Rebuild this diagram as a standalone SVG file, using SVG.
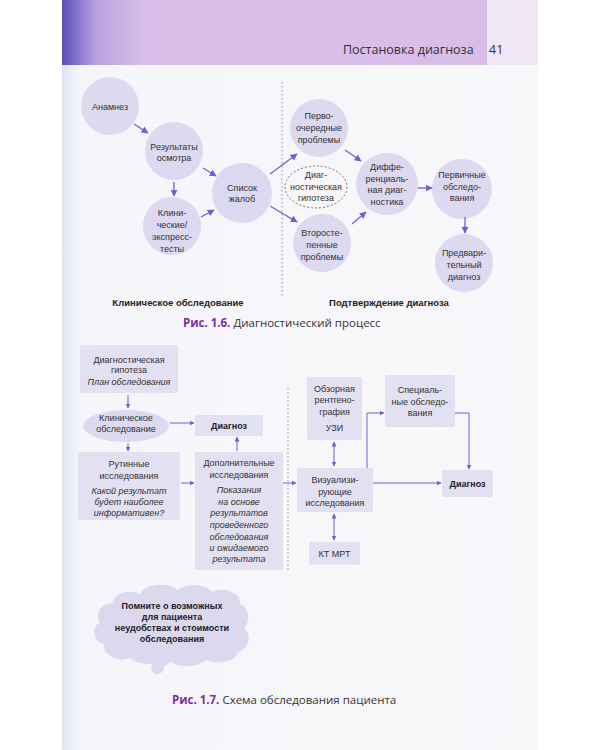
<svg xmlns="http://www.w3.org/2000/svg" width="600" height="750" viewBox="0 0 600 750">
<defs>
<linearGradient id="hdr" x1="0" y1="0" x2="1" y2="0">
<stop offset="0" stop-color="#5a4cb8"/>
<stop offset="0.08" stop-color="#b9a3e0"/>
<stop offset="0.2" stop-color="#d9bfea"/>
<stop offset="1" stop-color="#d8bde9"/>
</linearGradient>
<linearGradient id="pg" x1="0" y1="0" x2="1" y2="0">
<stop offset="0" stop-color="#dfe6f2"/>
<stop offset="0.04" stop-color="#f6f6fa"/>
<stop offset="1" stop-color="#f8f8fb"/>
</linearGradient>
<marker id="ah" viewBox="0 0 10 10" refX="9" refY="5" markerWidth="7" markerHeight="7" markerUnits="userSpaceOnUse" orient="auto-start-reverse">
<path d="M0,0 L10,5 L0,10 z" fill="#6a62d4"/>
</marker>
<marker id="as" viewBox="0 0 10 10" refX="9" refY="5" markerWidth="5" markerHeight="5" markerUnits="userSpaceOnUse" orient="auto-start-reverse">
<path d="M0,0 L10,5 L0,10 z" fill="#6a62d4"/>
</marker>
</defs>
<style>
text{font-family:"Liberation Sans",Arial,sans-serif;fill:#333;}
.t{font-size:9px;text-anchor:middle;}
.ti{font-size:9px;text-anchor:middle;font-style:italic;}
.b{font-size:9.5px;font-weight:bold;text-anchor:middle;fill:#222;}
.cb{font-size:9px;font-weight:bold;text-anchor:middle;fill:#222;}
.cap{font-family:"Open Sans","Noto Sans",sans-serif;font-size:11.5px;fill:#333;}
.capb{font-weight:bold;fill:#7a2f9c;}
.hd{font-family:"Open Sans","Noto Sans",sans-serif;font-size:12.5px;fill:#333;}
.c{fill:#dcd9f0;}
.bx{fill:#e2e0f1;}
.ln{stroke:#6a62d4;stroke-width:1.3;fill:none;marker-end:url(#ah);}
.ls{stroke:#6a62d4;stroke-width:1;fill:none;marker-end:url(#as);}
.ld{stroke:#6a62d4;stroke-width:1;fill:none;marker-end:url(#as);marker-start:url(#as);}
.dot{stroke:#777;stroke-width:0.8;stroke-dasharray:1.5 2.5;fill:none;}
</style>
<rect x="0" y="0" width="600" height="750" fill="#ffffff"/>
<rect x="62" y="0" width="476" height="750" fill="url(#pg)"/>
<rect x="62" y="0" width="425" height="65" fill="url(#hdr)"/>
<rect x="487" y="0" width="51" height="65" fill="#efe6f6"/>
<text class="hd" x="343" y="54">Постановка диагноза</text>
<text class="hd" x="489" y="54">41</text>

<!-- Figure 1.6 -->
<line class="dot" x1="282" y1="82" x2="282" y2="298"/>
<g id="anamnez"><circle class="c" cx="110" cy="106" r="29"/><text class="t" x="110" y="110">Анамнез</text></g>
<g id="results"><circle class="c" cx="174" cy="151" r="29"/><text class="t" x="174" y="150">Результаты</text><text class="t" x="174" y="160.5">осмотра</text></g>
<g id="tests"><circle class="c" cx="172" cy="226" r="29"/><text class="t" x="172" y="216">Клини-</text><text class="t" x="172" y="228">ческие/</text><text class="t" x="172" y="240">экспресс-</text><text class="t" x="172" y="251.5">тесты</text></g>
<g id="complaints"><circle class="c" cx="242" cy="193" r="30"/><text class="t" x="242" y="191">Список</text><text class="t" x="242" y="201.5">жалоб</text></g>
<g id="primary-problems"><circle class="c" cx="319" cy="128" r="29"/><text class="t" x="319" y="119">Перво-</text><text class="t" x="319" y="131">очередные</text><text class="t" x="319" y="143">проблемы</text></g>
<g id="hypothesis"><ellipse cx="316" cy="187" rx="31" ry="21" fill="none" stroke="#555" stroke-width="0.8" stroke-dasharray="2 2"/><text class="t" x="316" y="178">Диаг-</text><text class="t" x="316" y="190">ностическая</text><text class="t" x="316" y="201">гипотеза</text></g>
<g id="secondary-problems"><circle class="c" cx="322" cy="243" r="29"/><text class="t" x="322" y="236">Второсте-</text><text class="t" x="322" y="248">пенные</text><text class="t" x="322" y="260">проблемы</text></g>
<g id="differential"><circle class="c" cx="387" cy="184" r="31"/><text class="t" x="387" y="170">Диффе-</text><text class="t" x="387" y="181.5">ренциаль-</text><text class="t" x="387" y="193">ная диаг-</text><text class="t" x="387" y="205">ностика</text></g>
<g id="primary-exams"><circle class="c" cx="462" cy="189" r="30"/><text class="t" x="462" y="178">Первичные</text><text class="t" x="462" y="190">обследо-</text><text class="t" x="462" y="201">вания</text></g>
<g id="preliminary"><circle class="c" cx="464" cy="263" r="29"/><text class="t" x="464" y="256">Предвари-</text><text class="t" x="464" y="268">тельный</text><text class="t" x="464" y="280">диагноз</text></g>
<g id="connectors-1-6">
<line class="ln" x1="134" y1="124" x2="148" y2="133"/>
<line class="ln" x1="203" y1="168" x2="216" y2="176"/>
<line class="ln" x1="174" y1="182" x2="174" y2="196"/>
<line class="ln" x1="201" y1="217" x2="214" y2="210"/>
<line class="ln" x1="270" y1="174" x2="297" y2="154"/>
<line class="ln" x1="270" y1="206" x2="297" y2="222"/>
<line class="ln" x1="345" y1="150" x2="361" y2="161"/>
<line class="ln" x1="352" y1="224" x2="366" y2="212"/>
<line class="ln" x1="418" y1="188" x2="432" y2="188"/>
<line class="ln" x1="465" y1="217" x2="465" y2="233"/>
</g>
<text class="b" x="178" y="306">Клиническое обследование</text>
<text class="b" x="389" y="306">Подтверждение диагноза</text>
<text class="cap" x="183" y="327"><tspan class="capb">Рис. 1.6.</tspan> Диагностический процесс</text>

<!-- Figure 1.7 -->
<line class="dot" x1="288" y1="388" x2="288" y2="570"/>
<g id="hyp-box"><rect class="bx" x="80" y="345" width="98" height="48" rx="2"/><text class="t" x="129" y="363">Диагностическая</text><text class="t" x="129" y="373">гипотеза</text><text class="ti" x="129" y="385">План обследования</text></g>
<g id="clin-exam"><ellipse class="c" cx="126" cy="426" rx="43" ry="16"/><text class="t" x="126" y="421">Клиническое</text><text class="t" x="126" y="432">обследование</text></g>
<g id="diag1"><rect class="bx" x="195" y="415" width="68" height="21" rx="2"/><text class="cb" x="229" y="428.5">Диагноз</text></g>
<g id="routine"><rect class="bx" x="78" y="452" width="102" height="68" rx="2"/><text class="t" x="129" y="467">Рутинные</text><text class="t" x="129" y="479">исследования</text><text class="ti" x="129" y="494">Какой результат</text><text class="ti" x="129" y="505">будет наиболее</text><text class="ti" x="129" y="516">информативен?</text></g>
<g id="additional"><rect class="bx" x="195" y="452" width="88" height="118" rx="2"/><text class="t" x="239" y="466">Дополнительные</text><text class="t" x="239" y="478">исследования</text><text class="ti" x="239" y="493">Показания</text><text class="ti" x="239" y="505">на основе</text><text class="ti" x="239" y="516">результатов</text><text class="ti" x="239" y="527.5">проведенного</text><text class="ti" x="239" y="540">обследования</text><text class="ti" x="239" y="551">и ожидаемого</text><text class="ti" x="239" y="561.5">результата</text></g>
<g id="xray"><rect class="bx" x="307" y="377" width="55" height="63" rx="2"/><text class="t" x="334.5" y="392">Обзорная</text><text class="t" x="334.5" y="403">рентгено-</text><text class="t" x="334.5" y="415">графия</text><text class="t" x="334.5" y="431">УЗИ</text></g>
<g id="imaging"><rect class="bx" x="297" y="468" width="76" height="44" rx="2"/><text class="t" x="335" y="483">Визуализи-</text><text class="t" x="335" y="495">рующие</text><text class="t" x="335" y="506">исследования</text></g>
<g id="ct-mri"><rect class="bx" x="309" y="542" width="51" height="23" rx="2"/><text class="t" x="334.5" y="556.5">КТ МРТ</text></g>
<g id="special"><rect class="bx" x="385" y="375" width="70" height="52" rx="2"/><text class="t" x="420" y="393">Специаль-</text><text class="t" x="420" y="405">ные обследо-</text><text class="t" x="420" y="416">вания</text></g>
<g id="diag2"><rect class="bx" x="442" y="470" width="51" height="27" rx="2"/><text class="cb" x="467.5" y="487">Диагноз</text></g>
<g id="connectors-1-7">
<line class="ls" x1="128" y1="395" x2="128" y2="408"/>
<line class="ls" x1="170" y1="423" x2="194" y2="423"/>
<line class="ls" x1="128" y1="443" x2="128" y2="451"/>
<line class="ls" x1="181" y1="483" x2="194" y2="483"/>
<line class="ls" x1="237" y1="451" x2="237" y2="437"/>
<line class="ls" x1="283" y1="483" x2="296" y2="483"/>
<line class="ld" x1="334" y1="442" x2="334" y2="466"/>
<line class="ld" x1="334" y1="514" x2="334" y2="540"/>
<polyline class="ls" points="367,468 367,413 384,413"/>
<polyline class="ls" points="455,413 469,413 469,469"/>
<line class="ls" x1="373" y1="483" x2="441" y2="483"/>
</g>
<g id="cloud">
<path fill="#dcd9ef" d="M112,604 a18,14 0 0 1 28,-10 a22,14 0 0 1 38,-4 a20,12 0 0 1 34,2 a18,14 0 0 1 28,12 a12,14 0 0 1 4,24 a14,14 0 0 1 -6,24 a20,12 0 0 1 -32,8 a22,12 0 0 1 -36,2 a8,8 0 0 1 -6,4 a7,7 0 0 1 -8,8 a7,7 0 0 1 -4,-10 a22,12 0 0 1 -22,-6 a18,14 0 0 1 -26,-14 a12,12 0 0 1 -4,-22 a14,12 0 0 1 16,-18 z"/>
<text class="cb" x="172" y="609">Помните о возможных</text>
<text class="cb" x="172" y="620">для пациента</text>
<text class="cb" x="172" y="631">неудобствах и стоимости</text>
<text class="cb" x="172" y="642">обследования</text>
</g>
<text class="cap" x="172" y="704"><tspan class="capb">Рис. 1.7.</tspan> Схема обследования пациента</text>
</svg>
